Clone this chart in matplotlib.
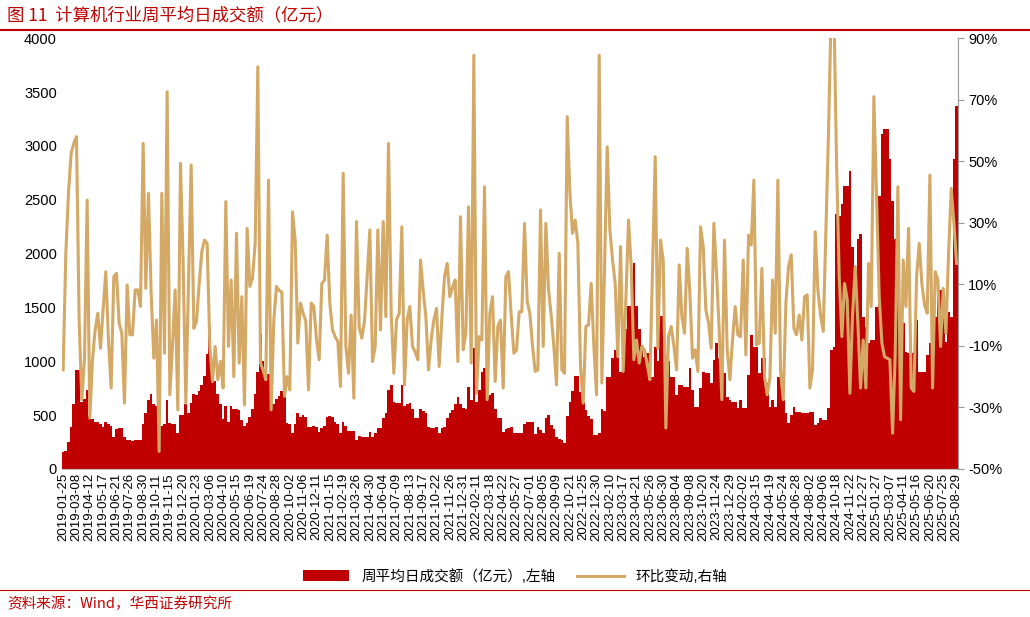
import matplotlib
matplotlib.use('Agg')
import matplotlib.pyplot as plt
from matplotlib.ticker import FuncFormatter

plt.rcParams['font.family'] = ['Liberation Sans', 'Noto Sans CJK SC', 'DejaVu Sans']

# weekly average daily turnover (100m yuan)
turnover = [
    161, 170, 250, 390, 600, 920, 916, 620, 650, 730,
    490, 460, 440, 440, 420, 390, 440, 420, 400, 300,
    370, 380, 380, 300, 270, 270, 260, 270, 270, 270,
    420, 520, 640, 700, 600, 580, 420, 400, 420, 640,
    430, 420, 420, 331, 500, 500, 600, 520, 610,
    700, 690, 720, 780, 860, 1070, 1320, 1000, 820, 700,
    600, 460, 580, 440, 580, 560, 560, 550, 450, 400,
    430, 480, 560, 700, 900, 1250, 1000, 830, 880,
    590, 600, 650, 680, 720, 760, 430, 420, 330, 420,
    520, 480, 500, 480, 390, 390, 400, 390, 340,
    380, 400, 480, 490, 480, 440, 420, 330, 440, 400,
    350, 350, 350, 270, 310, 300, 300,
    300, 346, 300, 330, 377, 377, 470, 520, 733, 780,
    625, 610, 610, 780, 580, 600, 610, 560, 470, 470,
    560, 540, 520, 390, 380, 377, 393, 330, 380,
    393, 470, 520, 550, 600, 671, 600, 570, 560, 764,
    640, 1120, 620, 733, 900, 934, 671, 690, 702, 560,
    470, 470, 346, 370, 377, 390, 330, 330, 330,
    330, 420, 440, 440, 440, 320, 393, 360, 330, 470,
    500, 410, 370, 300, 280, 270, 240, 490, 620,
    720, 860, 860, 710, 620, 550, 490, 460, 316, 316,
    330, 560, 540, 858, 858, 1027, 1100, 1100, 900, 1300,
    1300, 1517, 1517, 1909, 1517, 1300, 1150, 1040, 1080, 860,
    850, 1130, 1000, 1424, 1424, 1050, 1000,
    857, 857, 688, 780, 780, 764, 764, 934, 733,
    579, 579, 749, 903, 888, 888, 795, 1012, 1166, 1027,
    888, 888, 671, 640, 625, 625, 563, 640, 563, 563,
    872, 1243, 1136, 1136, 888, 1027, 1027, 795, 579, 640,
    579, 857, 857, 640, 517, 424, 501, 579, 532,
    532, 517, 517, 517, 532, 532, 408, 424, 470, 455,
    455, 563, 1104, 1136, 2366, 2350, 2459, 2629, 2629, 2768,
    2057, 1842, 2134, 2180, 1413, 1320, 1166, 1197, 1197,
    1506, 2536, 3110, 3157, 3157, 2876, 2490, 2134, 1764, 1352,
    1352, 1089, 1073, 1073, 1089, 1383, 903, 903, 903, 1057, 1166,
    1166, 1413, 1660, 1660, 1645, 1181, 1460, 1413, 2876, 3370,
]

# week-on-week change (%)
wow_change = [
    -17.8, 20, 39.6, 52.6, 55.8, 58, -1.6, -27.5, -14.5, 37.4,
    -33.5, -14.5, -4.8, 0.6, -10.8, 2, 14.1, -8.1, -23.7, 12.5,
    13.6, -2.6, -5.9, -28.6, 9.8, -6.4, -6.4, 8.2, 8.2, 2.8,
    55.8, 8.7, 39.6, 7.1, -14, -1.6, -44.3, 39.6, -12.4, 72.6,
    -25.9, -10, 8.2, -30.8, 49.3, 16.8, -28.6, 10, 48.8,
    -4.3, -2.1, 10, 20.6, 24.4, 23.3, -10, -21.6, -10.2, -21,
    -15, -23.7, 36.9, -10.2, 11.4, -20, 26.6, -15.6, 6, -29.2,
    28.2, 9.3, 12, 23.3, 80.7, -15.6, -18, -21, 43.9,
    -30.8, -1.6, 9.3, 8, 7.5, -26.4, -20, -24.3, 33.6, 24.4,
    -9.1, 3.9, 0.6, -2, -24.3, 3.9, 2.8, -8, -14.5,
    10.3, 11.4, 26, 3.9, -4.8, -7, -8.6, -23.2, 46.1, -10,
    -18.9, 0, -27, 30.4, -3.7, -7.5, -2,
    12.5, 27.7, -15.1, -10.2, 27.7, -4.8, 30.4, -0.5, 55.8, 0.6,
    -18.9, -1.6, 0.6, 28.7, -22.7, -1.6, 2.8, -10.2, -12, -14.5,
    17.9, 8, -0.5, -17.8, -8, -1.6, 2.2, -16.7, -1,
    12.5, 16.8, 6, 9, 11.4, -15.1, 32, -11.3, -5.9, 35.2,
    -15.6, 84.5, -25.4, -7, -8.1, 41.7, -27.5, 0.6, 6, -21.6,
    -3.7, -1.6, -23.7, 12.5, 14.1, 0, -12.4, -11.3, 1.1,
    1.1, 29.8, 4.4, 0.6, -10, -18.3, -17.8, 34.2, -10.2, 29.8,
    8.2, 0, -10.2, -22.7, 20.1, -17.8, -18.9, 64.5, 40,
    26.6, 30.9, 23.3, -16.7, -28.6, -3.7, -3.2, 10.3, -10, -25.9,
    84.5, -22.1, 15, 54.7, 27.7, 18, 10.3, -13.5, 22.3, -18.3,
    5, 30.9, 15.8, -14.5, -8.1, -15.6, -10.2, -11.3, -16, -21,
    15, 51.5, -10.8, 24.4, 17.9, -36.7, -7,
    -3.7, -10, -17.8, 16.3, -0.5, -5.9, 21.7, 7.1, -14,
    -11.3, -18.3, 28.7, 22.3, 1.7, -2.6, -10.8, 29.8, 13.6, -5,
    -27.5, 24.4, -11.3, -21, -8, 2.8, -6.4, -7, 17.9, -12.9,
    26, 22.8, 43.9, -9.7, -9.1, 15.2, -20, -25.9, -20.5, 11.4,
    -5.9, 43.9, -18.3, -27.5, 3.9, 15.8, 19.6, -4.3, -6.4,
    0, -8.1, 6, 6.6, -23.7, -17.8, 27.1, 8.2, 0, -5.3,
    27.7, 60, 100, 100, 49.3, 12.5, -7, 10.3, 5, -25.4,
    0, 15.8, -2.6, -23.7, -8.1, -23.7, 16.8, 2.8, 71,
    38.5, 6, -9.1, -13.5, -14, -14.5, -38.4, -12.4, 41.7, -34,
    17.9, 2.8, 28.2, -23.7, -24.8, 12.5, 23.3, 10, 3.3, 0.6, 45.5,
    -23.7, 14.1, 11.4, -10.2, 8.7, -5.9, 20, 41.2, 30, 16.8,
]

# every 5th week is labelled
tick_labels = [
    '2019-01-25', '2019-03-08', '2019-04-12', '2019-05-17', '2019-06-21', '2019-07-26',
    '2019-08-30', '2019-10-11', '2019-11-15', '2019-12-20', '2020-01-23', '2020-03-06',
    '2020-04-10', '2020-05-15', '2020-06-19', '2020-07-24', '2020-08-28', '2020-10-02',
    '2020-11-06', '2020-12-11', '2021-01-15', '2021-02-19', '2021-03-26', '2021-04-30',
    '2021-06-04', '2021-07-09', '2021-08-13', '2021-09-17', '2021-10-22', '2021-11-26',
    '2021-12-31', '2022-02-11', '2022-03-18', '2022-04-22', '2022-05-27', '2022-07-01',
    '2022-08-05', '2022-09-09', '2022-10-21', '2022-11-25', '2022-12-30', '2023-02-10',
    '2023-03-17', '2023-04-21', '2023-05-26', '2023-06-30', '2023-08-04', '2023-09-08',
    '2023-10-20', '2023-11-24', '2023-12-29', '2024-02-02', '2024-03-15', '2024-04-19',
    '2024-05-24', '2024-06-28', '2024-08-02', '2024-09-06', '2024-10-18', '2024-11-22',
    '2024-12-27', '2025-01-27', '2025-03-07', '2025-04-11', '2025-05-16', '2025-06-20',
    '2025-07-25', '2025-08-29',
]

n = len(turnover)
assert n == len(wow_change), (n, len(wow_change))
assert n == 5 * (len(tick_labels) - 1) + 1, n

RED = '#c00000'
GOLD = '#d4a865'

fig = plt.figure(figsize=(10.30, 6.17), dpi=100)
ax = fig.add_axes([0.060, 0.240, 0.870, 0.698])
xs = list(range(n))
bars = ax.bar(xs, turnover, width=1.0, color=RED, linewidth=0)
ax.set_xlim(-0.5, n - 0.5)
ax.set_ylim(0, 4000)
ax.set_yticks(range(0, 4001, 500))
ax.set_xticks(xs[::5])
ax.set_xticklabels(tick_labels, rotation=90, fontsize=9.5)
ax.tick_params(axis='y', labelsize=10.5, length=0)
ax.tick_params(axis='x', length=0, pad=3)
for s in ['top', 'right', 'left']:
    ax.spines[s].set_visible(False)
ax.spines['bottom'].set_color('#bfbfbf')

ax2 = ax.twinx()
line, = ax2.plot(xs, wow_change, color=GOLD, lw=2.2)
ax2.set_ylim(-50, 90)
ax2.set_yticks(range(-50, 91, 20))
ax2.yaxis.set_major_formatter(FuncFormatter(lambda v, p: f'{v:.0f}%'))
ax2.tick_params(axis='y', labelsize=10.5, direction='out', length=4, color='#999999')
for s in ['top', 'left', 'bottom']:
    ax2.spines[s].set_visible(False)
ax2.spines['right'].set_color('#999999')

fig.legend([bars, line], ['周平均日成交额（亿元）,左轴', '环比变动,右轴'],
           loc='center', bbox_to_anchor=(0.5, 0.066), ncol=2, frameon=False,
           fontsize=10.5, handlelength=3.2, columnspacing=1.5)

fig.text(0.007, 0.975, '图 11  计算机行业周平均日成交额（亿元）', color=RED, fontsize=12.5,
         va='center', ha='left', family=['Noto Sans CJK SC', 'DejaVu Sans'])
fig.add_artist(plt.Line2D([0.0, 1.0], [0.952, 0.952], color=RED, lw=1.5))
fig.add_artist(plt.Line2D([0.0, 1.0], [0.043, 0.043], color=RED, lw=0.8))
fig.text(0.007, 0.022, '资料来源：Wind，华西证券研究所', color=RED, fontsize=10.5,
         va='center', ha='left', family=['Noto Sans CJK SC', 'DejaVu Sans'])

fig.savefig('out.png', dpi=100)
